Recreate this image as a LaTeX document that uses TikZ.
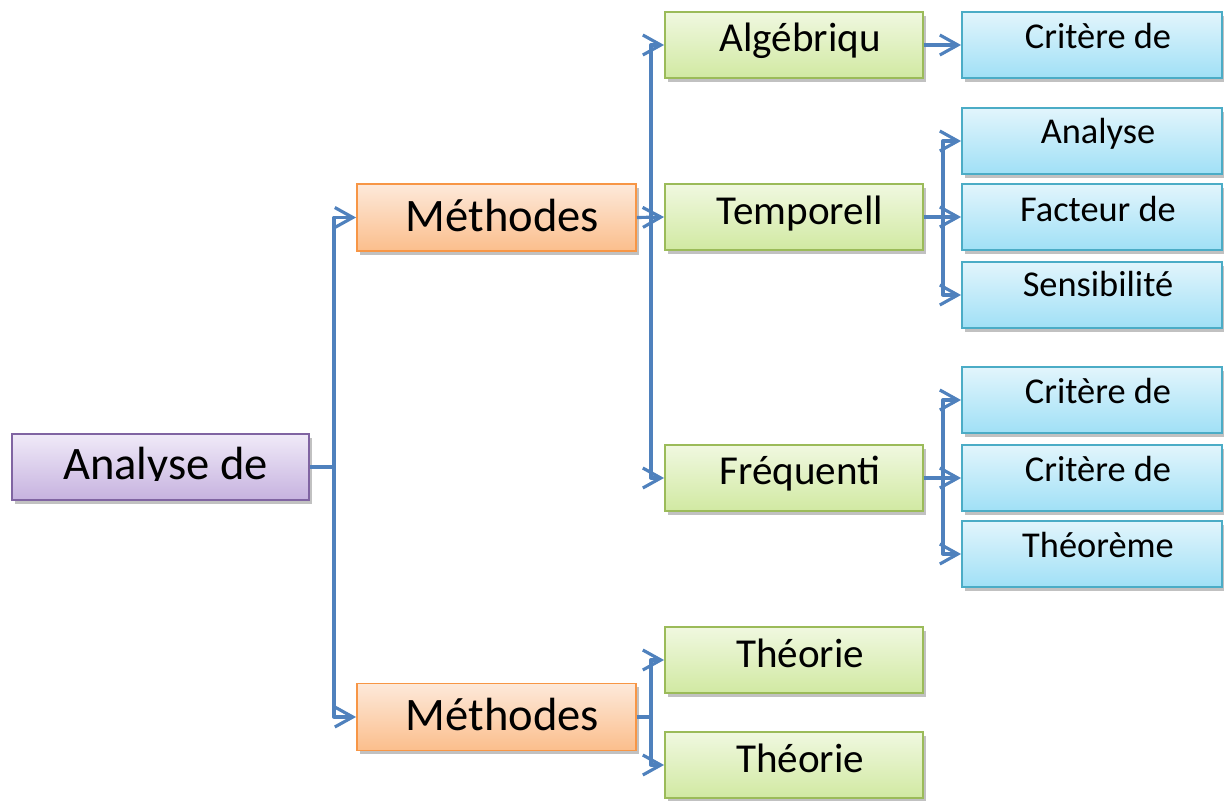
\documentclass[tikz,border=0pt]{standalone}
\usepackage{fontspec}
\setmainfont{Carlito}
\usetikzlibrary{arrows.meta,shadows,calc}
\definecolor{linkc}{HTML}{4F81BD}
\definecolor{purpB}{HTML}{8064A2}
\definecolor{purpT}{HTML}{F0EAF8}
\definecolor{purpL}{HTML}{C6B2DF}
\definecolor{oranB}{HTML}{F79646}
\definecolor{oranT}{HTML}{FDE9DA}
\definecolor{oranL}{HTML}{FBBE8C}
\definecolor{greeB}{HTML}{9BBB59}
\definecolor{greeT}{HTML}{F0F8E0}
\definecolor{greeL}{HTML}{D1E9A2}
\definecolor{bluB}{HTML}{4BACC6}
\definecolor{bluT}{HTML}{E2F5FC}
\definecolor{bluL}{HTML}{A0E0F6}
\begin{document}
\begin{tikzpicture}[x=0.02cm,y=-0.02cm,
  box/.style={rectangle, line width=1.1pt, inner sep=0pt,
    drop shadow={shadow xshift=1.6pt,shadow yshift=-2.2pt,opacity=0.35,fill=black!70}},
  rootbox/.style={box, draw=purpB, top color=purpT, bottom color=purpL, minimum width=5.94cm, minimum height=1.32cm},
  methbox/.style={box, draw=oranB, top color=oranT, bottom color=oranL, minimum width=5.58cm, minimum height=1.34cm},
  greenbox/.style={box, draw=greeB, top color=greeT, bottom color=greeL, minimum width=5.16cm, minimum height=1.32cm},
  bluebox/.style={box, draw=bluB, top color=bluT, bottom color=bluL, minimum width=5.2cm, minimum height=1.32cm},
  bigtext/.style={anchor=base, inner sep=0pt, font=\fontsize{26.5}{30}\selectfont},
  midtext/.style={anchor=base, inner sep=0pt, font=\fontsize{23.4}{27}\selectfont},
  smalltext/.style={anchor=base, inner sep=0pt, font=\fontsize{20.7}{24}\selectfont},
  link/.style={draw=linkc, line width=1.8pt, line join=round,
    -{Straight Barb[length=0.36cm,width=0.4cm,line width=1.8pt]}}
]
\useasboundingbox (0,0) rectangle (1224,801);

% boxes
\node[rootbox] (root) at (160.5,467) {};
\node[methbox] (m1) at (496.5,217.5) {};
\node[methbox] (m2) at (496.5,717) {};
\node[greenbox] (g1) at (794,45) {};
\node[greenbox] (g2) at (794,217) {};
\node[greenbox] (g3) at (794,478) {};
\node[greenbox] (g4) at (794,660) {};
\node[greenbox] (g5) at (794,765) {};
\node[bluebox] (b1) at (1092,45) {};
\node[bluebox] (b2) at (1092,141) {};
\node[bluebox] (b3) at (1092,217) {};
\node[bluebox] (b4) at (1092,295) {};
\node[bluebox] (b5) at (1092,400) {};
\node[bluebox] (b6) at (1092,478) {};
\node[bluebox] (b7) at (1092,554) {};

% texts
\begin{scope}
  \clip (root.north west) rectangle ($(root.north east)+(0,47)$);
  \node[bigtext] (rootT) at ($(root.north)+(5,46)$) {Analyse de};
\end{scope}
\node[bigtext] (m1T) at ($(m1.north)+(6,48)$) {Méthodes};
\node[bigtext] (m2T) at ($(m2.north)+(6,48)$) {Méthodes};
\node[midtext] (g1T) at ($(g1.north)+(6,40)$) {Algébriqu};
\node[midtext] (g2T) at ($(g2.north)+(6,41)$) {Temporell};
\node[midtext] (g3T) at ($(g3.north)+(6,40)$) {Fréquenti};
\node[midtext] (g4T) at ($(g4.north)+(6,41)$) {Théorie};
\node[midtext] (g5T) at ($(g5.north)+(6,41)$) {Théorie};
\node[smalltext] (b1T) at ($(b1.north)+(6,37)$) {Critère de};
\node[smalltext] (b2T) at ($(b2.north)+(6,36)$) {Analyse};
\node[smalltext] (b3T) at ($(b3.north)+(6,38)$) {Facteur de};
\node[smalltext] (b4T) at ($(b4.north)+(6,35)$) {Sensibilité};
\node[smalltext] (b5T) at ($(b5.north)+(6,37)$) {Critère de};
\node[smalltext] (b6T) at ($(b6.north)+(6,37)$) {Critère de};
\node[smalltext] (b7T) at ($(b7.north)+(6,37)$) {Théorème};

% connectors
\draw[link] (root.east) -- ++(24,0) |- (m1.west);
\draw[link] (root.east) -- ++(24,0) |- (m2.west);
\draw[link] (m1.east) -- ++(14,0) |- (g1.west);
\draw[link] (m1.east) -- (g2.west);
\draw[link] (m1.east) -- ++(14,0) |- (g3.west);
\draw[link] (m2.east) -- ++(14,0) |- (g4.west);
\draw[link] (m2.east) -- ++(14,0) |- (g5.west);
\draw[link] (g1.east) -- (b1.west);
\draw[link] (g2.east) -- ++(19,0) |- (b2.west);
\draw[link] (g2.east) -- (b3.west);
\draw[link] (g2.east) -- ++(19,0) |- (b4.west);
\draw[link] (g3.east) -- ++(19,0) |- (b5.west);
\draw[link] (g3.east) -- (b6.west);
\draw[link] (g3.east) -- ++(19,0) |- (b7.west);
\end{tikzpicture}
\end{document}
